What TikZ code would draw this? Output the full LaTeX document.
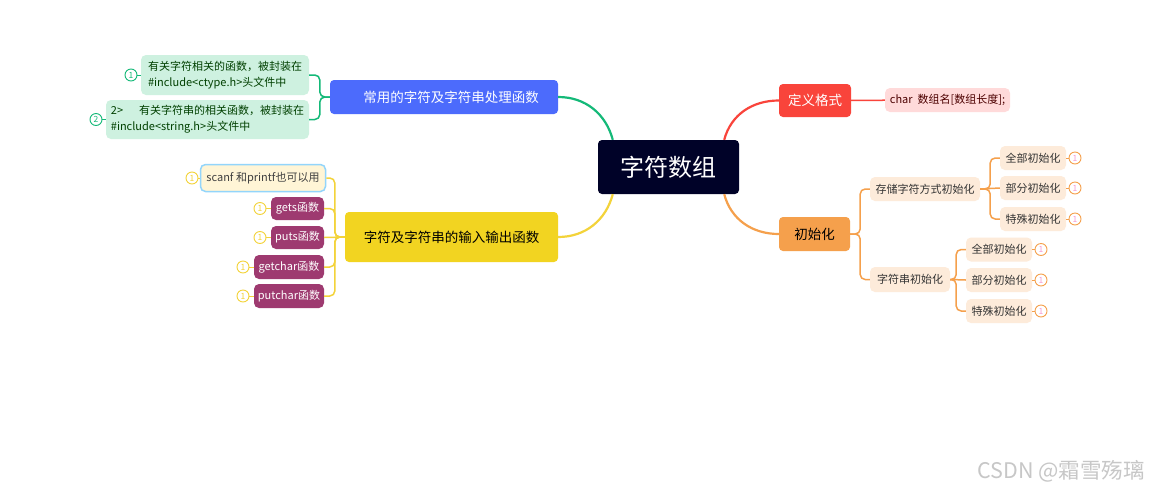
\documentclass[tikz,border=0pt]{standalone}
\usepackage{fontspec}
\setmainfont{Noto Sans CJK SC}
\usepackage{xcolor}
\usetikzlibrary{positioning}

\definecolor{rootnavy}{RGB}{0,2,40}
\definecolor{defred}{RGB}{249,68,59}
\definecolor{defpink}{RGB}{255,218,218}
\definecolor{initorange}{RGB}{245,160,76}
\definecolor{initcream}{RGB}{253,235,218}
\definecolor{funcblue}{RGB}{76,107,252}
\definecolor{funcgreen}{RGB}{20,185,120}
\definecolor{funcmint}{RGB}{206,241,224}
\definecolor{ioyellow}{RGB}{242,212,33}
\definecolor{ioline}{RGB}{243,211,58}
\definecolor{scanfcream}{RGB}{255,245,214}
\definecolor{scanfblue}{RGB}{147,213,251}
\definecolor{iomagenta}{RGB}{158,58,112}

\begin{document}
\begin{tikzpicture}[
    x=1pt, y=-1pt,
    rootbox/.style={rectangle, rounded corners=4pt, inner sep=0pt, fill=rootnavy, text=white, font=\fontsize{24}{28}\selectfont},
    mainbox/.style={rectangle, rounded corners=4pt, inner sep=0pt, font=\fontsize{13.5}{16}\selectfont},
    leafbox/.style={rectangle, rounded corners=5pt, inner sep=0pt, font=\fontsize{11}{16}\selectfont},
    tagc/.style={circle, draw=#1, fill=white, line width=0.9pt, minimum size=12pt, inner sep=0pt, font=\fontsize{8.5}{9}\selectfont},
    branch/.style={line width=2.2pt, #1},
    twig/.style={line width=1.5pt, rounded corners=5pt, #1}
]
\fill[white] (0,0) rectangle (1152,491);
\useasboundingbox (0,0) rectangle (1152,491);

% Root
\node (root) [rootbox, minimum width=141pt, minimum height=54pt] at (668.5,167) {字符数组};

% Right: definition
\node (def) [mainbox, fill=defred, text=white, minimum width=72pt, minimum height=33pt] at (815,100.5) {定义格式};
\node (defleaf) [leafbox, fill=defpink, text=black!70!red, minimum width=125pt, minimum height=24pt] at (947.5,100) {char\ \ 数组名[数组长度];};

% Right: initialisation
\node (init) [mainbox, fill=initorange, text=black, minimum width=71pt, minimum height=34pt] at (814.5,234) {初始化};
\node (initstore) [leafbox, fill=initcream, text=black!80, minimum width=110pt, minimum height=24pt] at (925,189) {存储字符方式初始化};
\node (initstr) [leafbox, fill=initcream, text=black!80, minimum width=80pt, minimum height=25pt] at (910,279.5) {字符串初始化};
\node (store1) [leafbox, fill=initcream, text=black!80, minimum width=66pt, minimum height=24pt] at (1033,158) {全部初始化};
\node (store2) [leafbox, fill=initcream, text=black!80, minimum width=66pt, minimum height=24pt] at (1033,188) {部分初始化};
\node (store3) [leafbox, fill=initcream, text=black!80, minimum width=66pt, minimum height=24pt] at (1033,219) {特殊初始化};
\node (str1) [leafbox, fill=initcream, text=black!80, minimum width=66pt, minimum height=24pt] at (999,249.5) {全部初始化};
\node (str2) [leafbox, fill=initcream, text=black!80, minimum width=66pt, minimum height=24pt] at (999,280) {部分初始化};
\node (str3) [leafbox, fill=initcream, text=black!80, minimum width=66pt, minimum height=24pt] at (999,311) {特殊初始化};
\node (tstore1) [tagc=initorange, text=magenta!40] at (1075,158) {1};
\node (tstore2) [tagc=initorange, text=magenta!40] at (1075,188) {1};
\node (tstore3) [tagc=initorange, text=magenta!40] at (1075,219) {1};
\node (tstr1) [tagc=initorange, text=magenta!40] at (1041,249.5) {1};
\node (tstr2) [tagc=initorange, text=magenta!40] at (1041,280) {1};
\node (tstr3) [tagc=initorange, text=magenta!40] at (1041,311) {1};

% Left: library functions
\node (func) [mainbox, fill=funcblue, text=white, minimum width=228pt, minimum height=34pt] at (444,97) {\hspace{14pt}常用的字符及字符串处理函数};
\node (leafA) [leafbox, fill=funcmint, text=black!75!green, align=left, minimum width=168pt, minimum height=40pt] at (225,75) {有关字符相关的函数，被封装在\\\#include<ctype.h>头文件中};
\node (leafB) [leafbox, fill=funcmint, text=black!75!green, align=left, minimum width=203pt, minimum height=39pt] at (207.5,119.5) {2>\hspace{16pt}有关字符串的相关函数，被封装在\\\#include<string.h>头文件中};
\node (tleafA) [tagc=funcgreen, text=funcgreen] at (131,75) {1};
\node (tleafB) [tagc=funcgreen, text=funcgreen] at (96,119.5) {2};

% Left: input / output
\node (io) [mainbox, fill=ioyellow, text=black, minimum width=213pt, minimum height=50pt] at (451.5,237) {字符及字符串的输入输出函数};
\node (scanf) [leafbox, fill=scanfcream, draw=scanfblue, line width=1.5pt, text=black!75, minimum width=125pt, minimum height=27pt] at (263,178) {scanf 和printf也可以用};
\node (gets) [leafbox, fill=iomagenta, text=white, minimum width=53pt, minimum height=23pt] at (297.5,208.5) {gets函数};
\node (puts) [leafbox, fill=iomagenta, text=white, minimum width=53pt, minimum height=23pt] at (297.5,237.5) {puts函数};
\node (getchar) [leafbox, fill=iomagenta, text=white, minimum width=70pt, minimum height=24pt] at (289,267) {getchar函数};
\node (putchar) [leafbox, fill=iomagenta, text=white, minimum width=70pt, minimum height=24pt] at (289,296) {putchar函数};
\node (tscanf) [tagc=ioline, text=ioline] at (192,178) {1};
\node (tgets) [tagc=ioline, text=ioline] at (260,208.5) {1};
\node (tputs) [tagc=ioline, text=ioline] at (260,237.5) {1};
\node (tgetchar) [tagc=ioline, text=ioline] at (243,267) {1};
\node (tputchar) [tagc=ioline, text=ioline] at (243,296) {1};

% Watermark
\node (mark) [text=black!22, font=\fontsize{21.5}{24}\selectfont] at (1061,471) {CSDN @霜雪殇璃};

% Branches from root
\draw [branch=defred] ([xshift=-15pt]root.north east) to[out=75, in=180] (def.west);
\draw [branch=initorange] ([xshift=-15pt]root.south east) to[out=-75, in=180] (init.west);
\draw [branch=funcgreen] ([xshift=15pt]root.north west) to[out=105, in=0] (func.east);
\draw [branch=ioline] ([xshift=15pt]root.south west) to[out=-105, in=0] (io.east);

% Twigs: right side
\draw [twig=defred] (def) -- (defleaf);
\draw [twig=initorange] (init.east) -- ++(10,0) |- (initstore.west);
\draw [twig=initorange] (init.east) -- ++(10,0) |- (initstr.west);
\draw [twig=initorange] (initstore.east) -- ++(10,0) |- (store1.west);
\draw [twig=initorange] (initstore.east) -- (store2.west);
\draw [twig=initorange] (initstore.east) -- ++(10,0) |- (store3.west);
\draw [twig=initorange] (initstr.east) -- ++(6,0) |- (str1.west);
\draw [twig=initorange] (initstr.east) -- (str2.west);
\draw [twig=initorange] (initstr.east) -- ++(6,0) |- (str3.west);
\foreach \n in {store1,store2,store3,str1,str2,str3}
    \draw [initorange, line width=1pt] (\n) -- (t\n);

% Twigs: left side
\draw [twig=funcgreen] (func.west) -- ++(-10,0) |- (leafA.east);
\draw [twig=funcgreen] (func.west) -- ++(-10,0) |- (leafB.east);
\draw [twig=ioline] (io.west) -- ++(-10,0) |- (scanf.east);
\draw [twig=ioline] (io.west) -- ++(-10,0) |- (gets.east);
\draw [twig=ioline] (io.west) -- (puts.east);
\draw [twig=ioline] (io.west) -- ++(-10,0) |- (getchar.east);
\draw [twig=ioline] (io.west) -- ++(-10,0) |- (putchar.east);
\foreach \n in {leafA,leafB}
    \draw [funcgreen, line width=1pt] (\n) -- (t\n);
\foreach \n in {scanf,gets,puts,getchar,putchar}
    \draw [ioline, line width=1pt] (\n) -- (t\n);
\end{tikzpicture}
\end{document}
